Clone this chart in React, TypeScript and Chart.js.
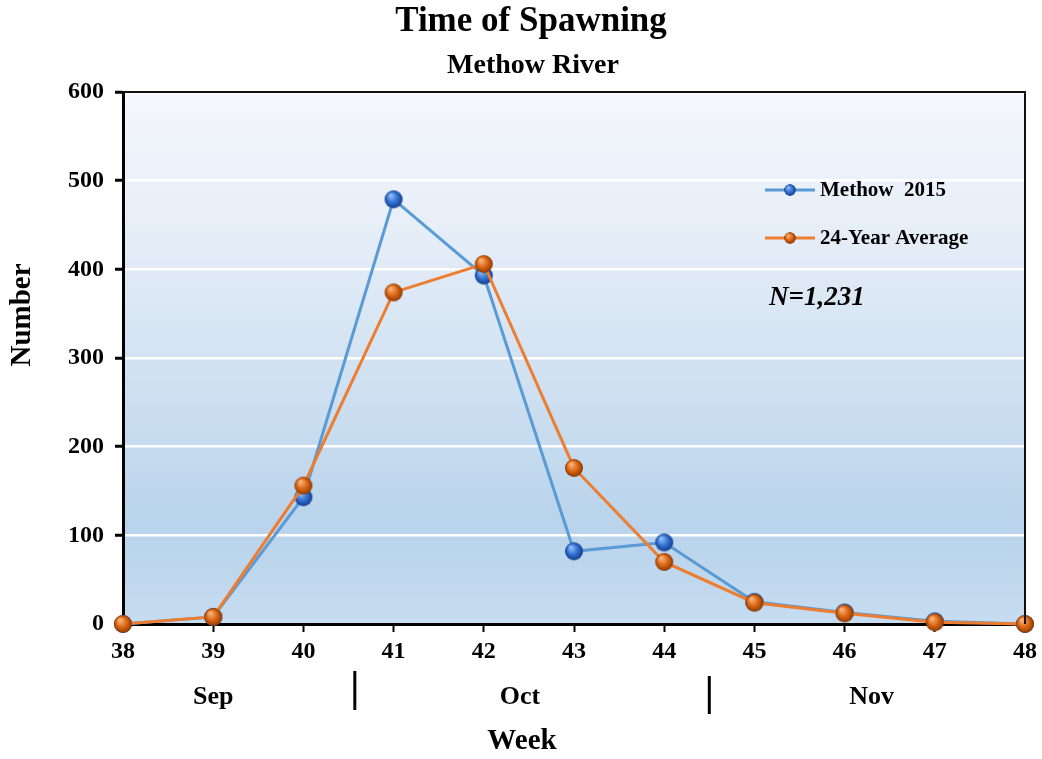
import React, { useEffect, useRef } from "react";
import { Chart, registerables } from "chart.js";

Chart.register(...registerables);

const weeks = [38, 39, 40, 41, 42, 43, 44, 45, 46, 47, 48];
const methow2015 = [0, 8, 143, 479, 393, 82, 92, 25, 13, 3, 0];
const average24 = [0, 8, 156, 374, 406, 176, 70, 24, 12, 2, 0];
const seriesNames = ["Methow  2015", "24-Year Average"];
const yMin = 0;
const yMax = 600;
const yStep = 100;
const months = ["Sep", "Oct", "Nov"];
const monthCenters = [39, 42.4, 46.3];
const monthDividers = [40.57, 44.5];
const chartTitle = "Time of Spawning";
const chartSubtitle = "Methow River";
const xTitle = "Week";
const yTitle = "Number";
const noteText = "N=1,231";

const FONT = "'Liberation Serif', 'Times New Roman', serif";

function makeSphere(light: string, mid: string, dark: string, r: number) {
  const size = r * 2 + 2;
  const c = document.createElement("canvas");
  c.width = size;
  c.height = size;
  const ctx = c.getContext("2d")!;
  const cx = size / 2;
  const cy = size / 2;
  const g = ctx.createRadialGradient(cx - r * 0.35, cy - r * 0.45, r * 0.1, cx, cy, r);
  g.addColorStop(0, light);
  g.addColorStop(0.55, mid);
  g.addColorStop(1, dark);
  ctx.beginPath();
  ctx.arc(cx, cy, r, 0, Math.PI * 2);
  ctx.fillStyle = g;
  ctx.fill();
  return c;
}

export default function App() {
  const ref = useRef<HTMLCanvasElement | null>(null);

  useEffect(() => {
    if (!ref.current) return;
    const blueSphere = makeSphere("#8fbdf5", "#2f6fd0", "#163e8c", 9);
    const orangeSphere = makeSphere("#f7b27a", "#db6512", "#8c3a06", 9);

    const decor = {
      id: "decor",
      beforeDraw(chart: any) {
        const { ctx, chartArea: a } = chart;
        ctx.save();
        ctx.fillStyle = "#ffffff";
        ctx.fillRect(0, 0, chart.width, chart.height);
        const g = ctx.createLinearGradient(0, a.top, 0, a.bottom);
        g.addColorStop(0, "#f5f8fc");
        g.addColorStop(0.3, "#e3ecf7");
        g.addColorStop(0.6, "#cbdef0");
        g.addColorStop(0.82, "#b8d3eb");
        g.addColorStop(1, "#c6dcf0");
        ctx.fillStyle = g;
        ctx.fillRect(a.left, a.top, a.right - a.left, a.bottom - a.top);
        ctx.restore();
      },
      afterDraw(chart: any) {
        const { ctx, chartArea: a } = chart;
        const xs = chart.scales.x;
        ctx.save();
        // top/right border
        ctx.strokeStyle = "#111";
        ctx.lineWidth = 2;
        ctx.beginPath();
        ctx.moveTo(a.left, a.top);
        ctx.lineTo(a.right, a.top);
        ctx.lineTo(a.right, a.bottom);
        ctx.stroke();

        ctx.fillStyle = "#000";
        ctx.textAlign = "center";
        ctx.textBaseline = "middle";
        ctx.font = `bold 35px ${FONT}`;
        ctx.fillText(chartTitle, 531, 22);
        ctx.font = `bold 28px ${FONT}`;
        ctx.fillText(chartSubtitle, 533, 66);

        // y title
        ctx.save();
        ctx.translate(23, 315);
        ctx.rotate(-Math.PI / 2);
        ctx.font = `bold 29px ${FONT}`;
        ctx.fillText(yTitle, 0, 0);
        ctx.restore();

        // months
        ctx.font = `bold 26px ${FONT}`;
        months.forEach((m, i) => {
          ctx.fillText(m, xs.getPixelForValue(monthCenters[i]), 697);
        });
        ctx.lineWidth = 3;
        ctx.strokeStyle = "#000";
        monthDividers.forEach((d, i) => {
          const px = xs.getPixelForValue(d);
          ctx.beginPath();
          ctx.moveTo(px, 671 + i * 5);
          ctx.lineTo(px, 710 + i * 4);
          ctx.stroke();
        });
        ctx.font = `bold 29px ${FONT}`;
        ctx.fillText(xTitle, 522, 742);

        // legend
        const legend = [
          { name: seriesNames[0], color: "#5b9bd5", img: blueSphere, y: 190 },
          { name: seriesNames[1], color: "#ed7d31", img: orangeSphere, y: 238 },
        ];
        legend.forEach((l) => {
          ctx.strokeStyle = l.color;
          ctx.lineWidth = 3;
          ctx.beginPath();
          ctx.moveTo(765, l.y);
          ctx.lineTo(815, l.y);
          ctx.stroke();
          ctx.drawImage(l.img, 790 - 6.5, l.y - 6.5, 13, 13);
          ctx.fillStyle = "#000";
          ctx.textAlign = "left";
          ctx.font = `bold 21px ${FONT}`;
          ctx.fillText(l.name, 820, l.y + 1);
        });
        ctx.font = `italic bold 27px ${FONT}`;
        ctx.textAlign = "left";
        ctx.fillText(noteText, 769, 298);
        ctx.restore();
      },
    };

    const chart = new Chart(ref.current, {
      type: "line",
      data: {
        datasets: [
          {
            label: seriesNames[1],
            data: weeks.map((w, i) => ({ x: w, y: average24[i] })),
            borderColor: "#ed7d31",
            borderWidth: 3,
            pointStyle: orangeSphere as any,
            clip: false as any,
            order: 1,
          },
          {
            label: seriesNames[0],
            data: weeks.map((w, i) => ({ x: w, y: methow2015[i] })),
            borderColor: "#5b9bd5",
            borderWidth: 3,
            pointStyle: blueSphere as any,
            clip: false as any,
            order: 2,
          },
        ],
      },
      options: {
        animation: false,
        responsive: false,
        layout: { padding: { top: 92, right: 17, left: 0, bottom: 0 } },
        plugins: { legend: { display: false }, title: { display: false }, tooltip: { enabled: false } },
        scales: {
          x: {
            type: "linear",
            min: weeks[0],
            max: weeks[weeks.length - 1],
            afterFit: (s: any) => {
              s.height = 135;
            },
            ticks: {
              stepSize: 1,
              color: "#000",
              font: { family: FONT, size: 24, weight: "bold" },
              padding: 5,
            },
            grid: {
              drawOnChartArea: false,
              drawTicks: true,
              tickLength: 8,
              tickColor: "#000",
              tickWidth: 2,
            },
            border: { color: "#000", width: 3 },
          },
          y: {
            min: yMin,
            max: yMax,
            afterFit: (s: any) => {
              s.width = 123;
            },
            ticks: {
              stepSize: yStep,
              color: "#000",
              font: { family: FONT, size: 24, weight: "bold" },
              padding: 11,
            },
            grid: {
              color: "#ffffff",
              lineWidth: 2.5,
              tickLength: 8,
              tickColor: "#000",
              tickWidth: 3,
            },
            border: { color: "#000", width: 3 },
          },
        },
      } as any,
      plugins: [decor],
    });
    return () => chart.destroy();
  }, []);

  return (
    <div style={{ position: "absolute", left: 0, top: 0, width: 1042, height: 759, background: "#fff" }}>
      <canvas ref={ref} width={1042} height={759} />
    </div>
  );
}
